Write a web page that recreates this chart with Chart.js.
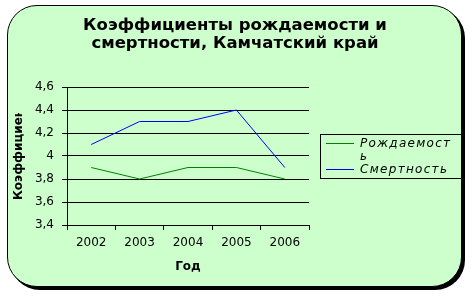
<!DOCTYPE html>
<html>
<head>
<meta charset="utf-8">
<script src="https://cdn.jsdelivr.net/npm/chart.js@4.4.0/dist/chart.umd.min.js"></script>
<style>
  html, body { margin: 0; padding: 0; background: #fff; }
  #wrap { position: relative; width: 472px; height: 297px; }
  #panel {
    position: absolute; left: 7px; top: 5px; width: 453px; height: 280px;
    background: #ccffcc; border: 1.5px solid #000; border-radius: 30px;
    box-shadow: 3px 3px 0 #000;
  }
  #myChart { position: absolute; left: 0; top: 0; }
</style>
</head>
<body>
<div id="wrap">
  <div id="panel"></div>
  <canvas id="myChart" width="472" height="297"></canvas>
</div>
<script>
const years = ['2002', '2003', '2004', '2005', '2006'];
const birthRate = [3.9, 3.8, 3.9, 3.9, 3.8];
const deathRate = [4.1, 4.3, 4.3, 4.4, 3.9];
const seriesNames = ['Рождаемость', 'Смертность'];
const titleLines = ['Коэффициенты рождаемости и', 'смертности, Камчатский край'];
const yTitle = 'Коэффициенты';
const xTitle = 'Год';

// titles, axis names and the legend are drawn by hand to match the picture
const extras = {
  id: 'extras',
  afterDraw(chart) {
    const ctx = chart.ctx;
    const area = chart.chartArea;
    ctx.save();
    ctx.fillStyle = '#000';
    ctx.textAlign = 'center';
    ctx.textBaseline = 'alphabetic';
    ctx.font = 'bold 16.5px "DejaVu Sans"';
    ctx.fillText(titleLines[0], 235, 30);
    ctx.fillText(titleLines[1], 235, 48);

    ctx.font = 'bold 12px "DejaVu Sans"';
    ctx.fillText(xTitle, (area.left + area.right) / 2, 270);

    ctx.save();
    ctx.beginPath();
    ctx.rect(0, 113, 40, 88);
    ctx.clip();
    ctx.translate(22, 200);
    ctx.rotate(-Math.PI / 2);
    ctx.textAlign = 'left';
    ctx.fillText(yTitle, 0, 0);
    ctx.restore();

    // legend
    ctx.strokeStyle = '#000';
    ctx.lineWidth = 1;
    ctx.strokeRect(320.5, 134.5, 143, 44);
    ctx.font = 'italic 12px "DejaVu Sans"';
    ctx.letterSpacing = '1.3px';
    ctx.textAlign = 'left';
    let y = 147;
    chart.data.datasets.forEach((ds, i) => {
      const lines = [];
      let cur = '';
      for (const ch of ds.label) {
        if (ctx.measureText(cur + ch).width > 94 && cur) { lines.push(cur); cur = ch; }
        else cur += ch;
      }
      lines.push(cur);
      ctx.strokeStyle = ds.borderColor;
      ctx.beginPath();
      const ly = i === 0 ? 143.5 : 169.5;
      ctx.moveTo(326, ly); ctx.lineTo(354, ly);
      ctx.stroke();
      lines.forEach(l => { ctx.fillText(l, 360, y); y += 13; });
    });
    ctx.restore();
  }
};

new Chart(document.getElementById('myChart').getContext('2d'), {
  type: 'line',
  data: {
    labels: years,
    datasets: [
      { label: seriesNames[0], data: birthRate, borderColor: '#008000', borderWidth: 1, pointRadius: 0, tension: 0, fill: false },
      { label: seriesNames[1], data: deathRate, borderColor: '#0000ff', borderWidth: 1, pointRadius: 0, tension: 0, fill: false }
    ]
  },
  options: {
    responsive: false,
    animation: false,
    layout: { padding: { left: 0, top: 87, right: 163, bottom: 0 } },
    plugins: { legend: { display: false }, title: { display: false }, tooltip: { enabled: false } },
    scales: {
      x: {
        offset: true,
        afterFit: (s) => { s.height = 72; },
        grid: { offset: true, drawOnChartArea: false, drawTicks: true, tickLength: 5, color: '#000' },
        border: { color: '#000', width: 1 },
        ticks: { color: '#000', font: { family: 'DejaVu Sans', size: 12 }, padding: 6, maxRotation: 0 }
      },
      y: {
        min: 3.4, max: 4.6,
        afterFit: (s) => { s.width = 67; },
        grid: { color: '#000', tickLength: 5 },
        border: { color: '#000', width: 1 },
        ticks: {
          stepSize: 0.2, color: '#000', padding: 8,
          font: { family: 'DejaVu Sans', size: 12 },
          callback: (v) => String(Math.round(v * 10) / 10).replace('.', ',')
        }
      }
    }
  },
  plugins: [extras]
});
</script>
</body>
</html>
